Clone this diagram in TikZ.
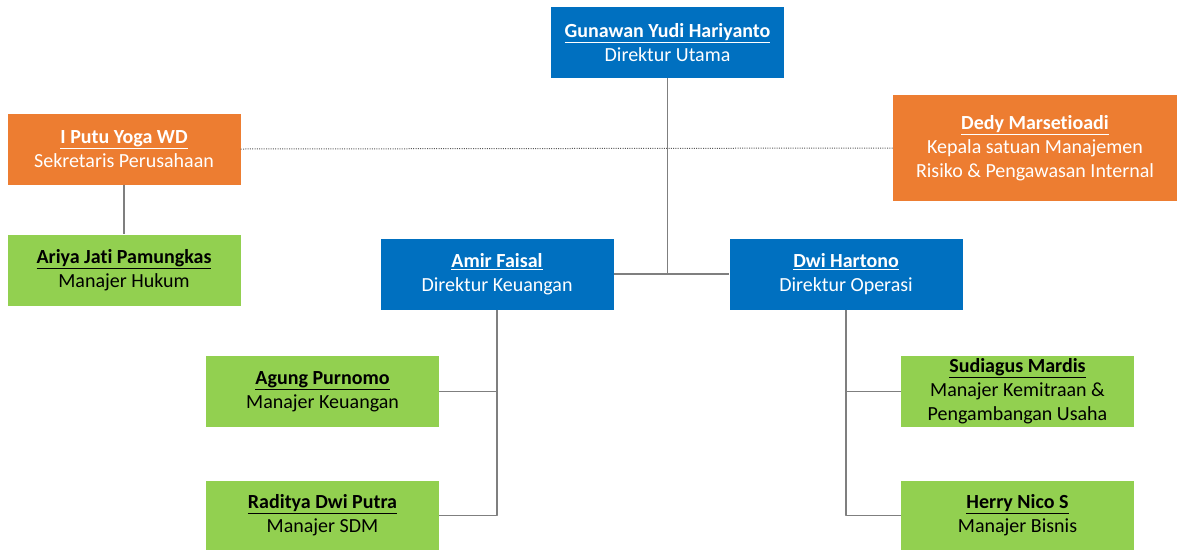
\documentclass[tikz,border=0pt]{standalone}
\usepackage{fontspec}
\setmainfont{Carlito}[Ligatures=NoCommon]
\usetikzlibrary{positioning}
\definecolor{birutua}{HTML}{0070C0}
\definecolor{oranye}{HTML}{ED7D31}
\definecolor{hijau}{HTML}{92D050}
\definecolor{garis}{HTML}{7F7F7F}
\tikzset{
	kotak/.style={rectangle, minimum width=233pt, minimum height=71pt, inner sep=0pt, align=center, font=\fontsize{20}{24}\selectfont},
	biru/.style={kotak, fill=birutua, text=white},
	jingga/.style={kotak, fill=oranye, text=white},
	daun/.style={kotak, fill=hijau, text=black},
	garis/.style={draw=garis, line width=1.3pt},
	titik/.style={draw=garis!70!black, line width=1pt, dash pattern=on 1pt off 1.3pt}
}
\newcommand{\nama}[1]{\underline{\textbf{#1}}}
\begin{document}
\begin{tikzpicture}[x=1pt, y=-1pt, line join=round]
	\useasboundingbox (0,0) rectangle (1177,550);
	% Direksi
	\node[biru] (utama) at (667.5,42.5) {\nama{Gunawan Yudi Hariyanto}\\Direktur Utama};
	\node[biru] (keu) at (497,274) {\nama{Amir Faisal}\\Direktur Keuangan};
	\node[biru] (ops) at (846,274) {\nama{Dwi Hartono}\\Direktur Operasi};
	% Staf di bawah Direktur Utama
	\node[jingga] (sekper) at (124,149) {\nama{I Putu Yoga WD}\\Sekretaris Perusahaan};
	\node[jingga, minimum width=284pt, minimum height=106pt] (spi) at (1035,148) {\nama{Dedy Marsetioadi}\\Kepala satuan Manajemen\\Risiko \& Pengawasan Internal};
	\node[daun] (hukum) at (124,270) {\nama{Ariya Jati Pamungkas}\\Manajer Hukum};
	% Manajer
	\node[daun] (mkeu) at (322.5,391.5) {\nama{Agung Purnomo}\\Manajer Keuangan};
	\node[daun, minimum height=69pt] (sdm) at (322.5,515.5) {\nama{Raditya Dwi Putra}\\Manajer SDM};
	\node[daun] (mitra) at (1017.5,391.5) {\nama{Sudiagus Mardis}\\Manajer Kemitraan \&\\Pengambangan Usaha};
	\node[daun, minimum height=69pt] (bisnis) at (1017.5,515.5) {\nama{Herry Nico S}\\Manajer Bisnis};
	% Garis
	\draw[titik] (sekper.east) -- (spi.west);
	\draw[garis] (utama.south) -- (utama.south |- keu.east);
	\draw[garis] (keu.east) -- (ops.west);
	\draw[garis] (sekper.south) -- (hukum.north);
	\draw[garis] (keu.south) -- (keu.south |- sdm.east) -- (sdm.east);
	\draw[garis] (mkeu.east) -- (mkeu.east -| keu.south);
	\draw[garis] (ops.south) -- (ops.south |- bisnis.west) -- (bisnis.west);
	\draw[garis] (mitra.west) -- (mitra.west -| ops.south);
\end{tikzpicture}
\end{document}
